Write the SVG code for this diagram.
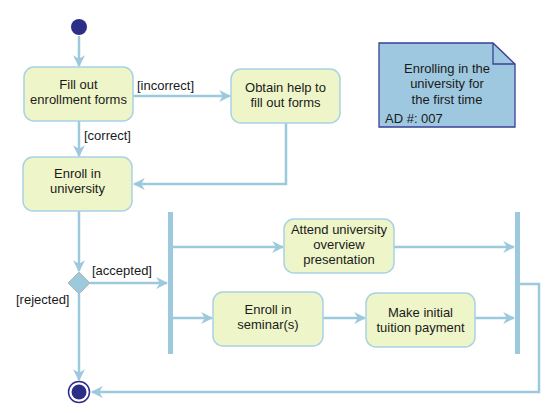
<svg xmlns="http://www.w3.org/2000/svg" width="557" height="413" viewBox="0 0 557 413">
<style>
.box{fill:#eef5c8;stroke:#a9d2e3;stroke-width:1.5}
.t{font-family:"Liberation Sans",Arial,sans-serif;font-size:13px;fill:#1a1a1a}
.c{text-anchor:middle}
.ln{fill:none;stroke:#9dc9dd;stroke-width:2.5}
.bar{fill:#9dc9dd}
</style>
<defs>
<marker id="ah" viewBox="0 0 10 10" refX="9" refY="5" markerWidth="12" markerHeight="12" markerUnits="userSpaceOnUse" orient="auto">
<path d="M0,0 L10,5 L0,10 L3,5 Z" fill="#9dc9dd"/>
</marker>
</defs>
<rect width="557" height="413" fill="#ffffff"/>
<g id="connectors">
<path class="ln" d="M79,36 V66" marker-end="url(#ah)"/>
<path class="ln" d="M133,96 H230" marker-end="url(#ah)"/>
<path class="ln" d="M79,121 V156" marker-end="url(#ah)"/>
<path class="ln" d="M286,123 V184 H134" marker-end="url(#ah)"/>
<path class="ln" d="M79,211 V271" marker-end="url(#ah)"/>
<path class="ln" d="M90,283 H167" marker-end="url(#ah)"/>
<path class="ln" d="M79,294 V380" marker-end="url(#ah)"/>
<path class="ln" d="M173,247 H283" marker-end="url(#ah)"/>
<path class="ln" d="M173,318 H212" marker-end="url(#ah)"/>
<path class="ln" d="M323,318 H365" marker-end="url(#ah)"/>
<path class="ln" d="M394,247 H514" marker-end="url(#ah)"/>
<path class="ln" d="M475,318 H514" marker-end="url(#ah)"/>
<path class="ln" d="M520,284 H539 V392 H92" marker-end="url(#ah)"/>
<text class="t" x="137" y="90">[incorrect]</text>
<text class="t" x="84" y="140">[correct]</text>
<text class="t" x="92" y="275">[accepted]</text>
<text class="t" x="16" y="304">[rejected]</text>
</g>
<g id="start"><circle cx="79" cy="27" r="8" fill="#2d2f86"/></g>
<g id="fill-forms">
<rect class="box" x="24" y="67" width="109" height="54" rx="10"/>
<text class="t c" x="78.5" y="89">Fill out</text>
<text class="t c" x="78.5" y="104">enrollment forms</text>
</g>
<g id="obtain-help">
<rect class="box" x="231" y="69" width="109" height="54" rx="10"/>
<text class="t c" x="285.5" y="92">Obtain help to</text>
<text class="t c" x="285.5" y="107">fill out forms</text>
</g>
<g id="enroll-university">
<rect class="box" x="23" y="157" width="109" height="54" rx="10"/>
<text class="t c" x="77.5" y="178">Enroll in</text>
<text class="t c" x="77.5" y="193">university</text>
</g>
<g id="decision">
<path d="M79,272 L90,283 L79,294 L68,283 Z" fill="#9dc9dd" stroke="#b5b5b5" stroke-width="1"/>
</g>
<g id="fork"><rect class="bar" x="168" y="212" width="5" height="142"/></g>
<g id="join"><rect class="bar" x="515" y="212" width="5" height="142"/></g>
<g id="attend">
<rect class="box" x="284" y="219" width="110" height="54" rx="10"/>
<text class="t c" x="339" y="234">Attend university</text>
<text class="t c" x="339" y="249">overview</text>
<text class="t c" x="339" y="264">presentation</text>
</g>
<g id="enroll-seminar">
<rect class="box" x="213" y="292" width="110" height="54" rx="10"/>
<text class="t c" x="268" y="314">Enroll in</text>
<text class="t c" x="268" y="329">seminar(s)</text>
</g>
<g id="tuition">
<rect class="box" x="366" y="293" width="109" height="54" rx="10"/>
<text class="t c" x="420.5" y="317">Make initial</text>
<text class="t c" x="420.5" y="332">tuition payment</text>
</g>
<g id="end">
<circle cx="79" cy="392" r="10.5" fill="#ffffff" stroke="#2d2f86" stroke-width="1.5"/>
<circle cx="79" cy="392" r="7.5" fill="#2d2f86"/>
</g>
<g id="note">
<path d="M379,43 H493 L515,64 V127 H379 Z" fill="#9ec8df" stroke="#3a3f96" stroke-width="1.3"/>
<path d="M493,43 V64 H515" fill="none" stroke="#3a3f96" stroke-width="1.3"/>
<text class="t c" x="447" y="73">Enrolling in the</text>
<text class="t c" x="447" y="88">university for</text>
<text class="t c" x="447" y="104">the first time</text>
<text class="t" x="385" y="123">AD #: 007</text>
</g>
</svg>
